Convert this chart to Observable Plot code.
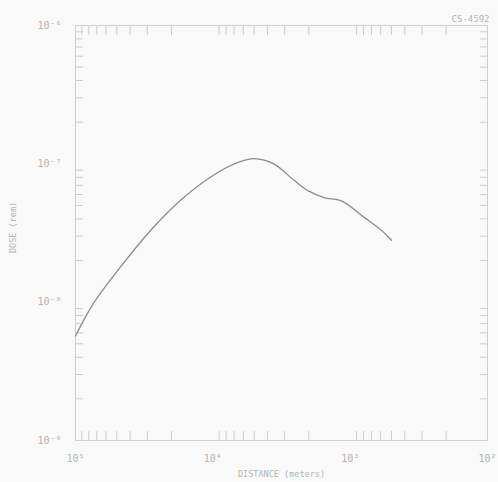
<!DOCTYPE html>
<html>
<head>
<meta charset="utf-8">
<script src="https://cdn.jsdelivr.net/npm/d3@7"></script>
<script src="https://cdn.jsdelivr.net/npm/@observablehq/plot@0.6"></script>
<style>
  html, body { margin: 0; padding: 0; background: #f9f9f9; }
  #chart svg { display: block; background: #f9f9f9; }
</style>
</head>
<body>
<div id="chart"></div>
<script>
// Distance (meters) and dose (rem)
const distance = [1.0e5, 7.4e4, 4.5e4, 2.84e4, 1.63e4, 9.2e3, 6.25e3, 5.0e3, 3.6e3, 2.56e3, 2.03e3, 1.55e3, 1.16e3, 7.9e2, 5.9e2, 5.0e2];
const dose     = [5.7e-9, 9.8e-9, 1.9e-8, 3.3e-8, 5.7e-8, 8.65e-8, 1.04e-7, 1.09e-7, 1.0e-7, 7.6e-8, 6.4e-8, 5.7e-8, 5.4e-8, 4.1e-8, 3.3e-8, 2.8e-8];

const xTicks = [1e5, 1e4, 1e3, 1e2];
const xTickLabels = ["10\u2075", "10\u2074", "10\u00B3", "10\u00B2"];
const yTicks = [1e-6, 1e-7, 1e-8, 1e-9];
const yTickLabels = ["10\u207B\u2076", "10\u207B\u2077", "10\u207B\u2078", "10\u207B\u2079"];
const minorMultipliers = [2, 3, 4, 5, 6, 7, 8, 9];
const xLabel = "DISTANCE (meters)";
const yLabel = "DOSE (rem)";
const figureId = "CS-4592";

const data = distance.map((d, i) => ({distance: d, dose: dose[i]}));
const xMinor = [];
for (const t of [1e2, 1e3, 1e4]) for (const m of minorMultipliers) xMinor.push(t * m);
const yMinor = [];
for (const t of [1e-9, 1e-8, 1e-7]) for (const m of minorMultipliers) yMinor.push(t * m);

const ink = "#b4b4b4";
const font = "DejaVu Sans Mono, monospace";
const blank = () => "";

const chart = Plot.plot({
  width: 498,
  height: 482,
  marginLeft: 75,
  marginRight: 11,
  marginTop: 25,
  marginBottom: 42,
  style: {background: "#f9f9f9", fontFamily: font, color: ink},
  x: {type: "log", domain: [1e5, 1e2], label: null},
  y: {type: "log", domain: [1e-9, 1e-6], label: null},
  marks: [
    Plot.frame({stroke: "#cfcfcf", strokeWidth: 1}),
    // inward minor ticks on all four sides
    Plot.axisX({anchor: "bottom", ticks: xMinor, tickSize: -9, tickFormat: blank, stroke: "#cdcdcd", label: null}),
    Plot.axisX({anchor: "top", ticks: xMinor, tickSize: -9, tickFormat: blank, stroke: "#cdcdcd", label: null}),
    Plot.axisY({anchor: "left", ticks: yMinor, tickSize: -8, tickFormat: blank, stroke: "#cdcdcd", label: null}),
    Plot.axisY({anchor: "right", ticks: yMinor, tickSize: -8, tickFormat: blank, stroke: "#cdcdcd", label: null}),
    // decade labels
    Plot.axisX({anchor: "bottom", ticks: xTicks, tickSize: 0, tickPadding: 14,
      tickFormat: (d) => xTickLabels[xTicks.indexOf(d)], fontSize: 10, fill: ink, label: null}),
    Plot.axisY({anchor: "left", ticks: yTicks, tickSize: 0, tickPadding: 14,
      tickFormat: (d) => yTickLabels[yTicks.indexOf(d)], fontSize: 10, fill: ink, label: null}),
    Plot.line(data, {x: "distance", y: "dose", curve: "catmull-rom", stroke: "#8c8c8c", strokeWidth: 1.3}),
    Plot.text([xLabel], {frameAnchor: "bottom", dy: 36, text: (d) => d, fontSize: 8.5, fill: ink, letterSpacing: "1px"}),
    Plot.text([yLabel], {frameAnchor: "left", dx: -62, dy: 20, rotate: -90, text: (d) => d, fontSize: 8.5, fill: ink, letterSpacing: "1px"}),
    Plot.text([figureId], {frameAnchor: "top-right", dy: -10, dx: 2, textAnchor: "end", text: (d) => d, fontSize: 9, fill: ink, letterSpacing: "1.5px"})
  ]
});
document.getElementById("chart").appendChild(chart);
</script>
</body>
</html>
